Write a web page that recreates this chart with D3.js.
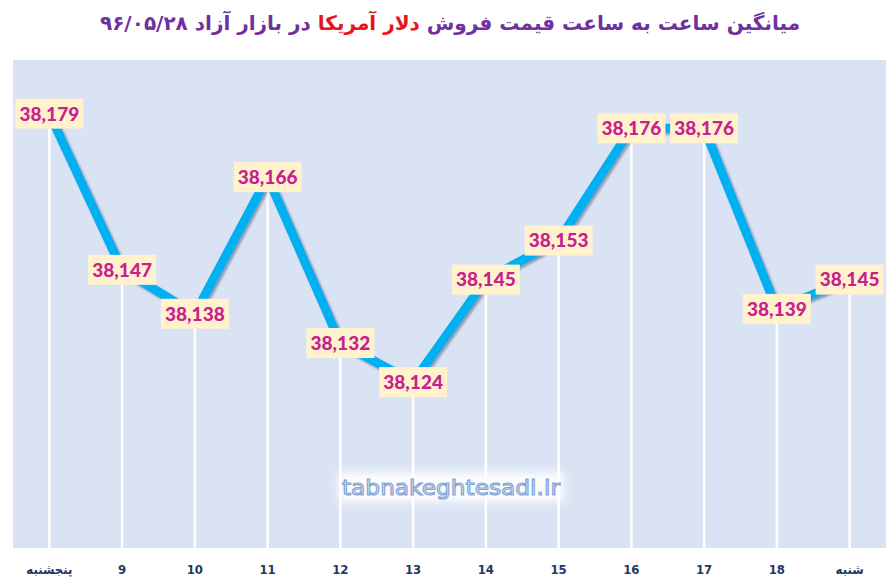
<!DOCTYPE html>
<html><head><meta charset="utf-8">
<script src="https://cdn.jsdelivr.net/npm/d3@7"></script>
<style>html,body{margin:0;padding:0;background:#fff;}svg{display:block;}</style>
</head><body>
<script>
const categories = ["پنجشنبه","9","10","11","12","13","14","15","16","17","18","شنبه"];
const prices = [38179,38147,38138,38166,38132,38124,38145,38153,38176,38176,38139,38145];
const yDomain = [38090, 38190];
const titleParts = [
  {t:"میانگین ساعت به ساعت قیمت فروش ", c:"#7030a0"},
  {t:"دلار آمریکا", c:"#e8141b"},
  {t:" در بازار آزاد ۹۶/۰۵/۲۸", c:"#7030a0"}
];
const watermark = "tabnakeghtesadi.ir";

const W=895,H=587;
const plot={x0:13,x1:886,y0:60,y1:548};
const svg=d3.select("body").append("svg").attr("width",W).attr("height",H);
const defs=svg.append("defs");
const f=defs.append("filter").attr("id","sh").attr("x","-10%").attr("y","-10%").attr("width","120%").attr("height","120%");
f.append("feDropShadow").attr("dx",2).attr("dy",2).attr("stdDeviation",1).attr("flood-color","#6b7a99").attr("flood-opacity",0.7);
const g2=defs.append("filter").attr("id","glow").attr("x","-20%").attr("y","-50%").attr("width","140%").attr("height","200%");
g2.append("feGaussianBlur").attr("stdDeviation",4);

svg.append("rect").attr("x",plot.x0).attr("y",plot.y0).attr("width",plot.x1-plot.x0).attr("height",plot.y1-plot.y0).attr("fill","#dae3f3");

const x=d3.scalePoint().domain(categories).range([plot.x0,plot.x1]).padding(0.5);
const y=d3.scaleLinear().domain(yDomain).range([plot.y1,plot.y0]);
const data=categories.map((c,i)=>({c,v:prices[i]}));

// drop lines
svg.append("g").selectAll("line").data(data).join("line")
  .attr("x1",d=>x(d.c)).attr("x2",d=>x(d.c))
  .attr("y1",d=>y(d.v)).attr("y2",plot.y1)
  .attr("stroke","#ffffff").attr("stroke-width",2.5);

// watermark
const wm=svg.append("g");
wm.append("rect").attr("x",338).attr("y",472).attr("width",226).attr("height",30).attr("fill","#ffffff").attr("opacity",0.9).attr("filter","url(#glow)");
wm.append("text").attr("x",451).attr("y",495).attr("text-anchor","middle")
  .attr("font-family","'DejaVu Sans'").attr("font-size",22).attr("font-weight","normal")
  .attr("fill","#dce6f5").attr("stroke","#7fa2d6").attr("stroke-width",1.1)
  .attr("textLength",218).attr("lengthAdjust","spacingAndGlyphs")
  .text(watermark);

// line
const line=d3.line().x(d=>x(d.c)).y(d=>y(d.v));
svg.append("path").datum(data).attr("d",line).attr("fill","none")
  .attr("stroke","#00b0f0").attr("stroke-width",9).attr("stroke-linejoin","miter").attr("filter","url(#sh)");

// data labels
const lg=svg.append("g").selectAll("g").data(data).join("g")
  .attr("transform",d=>`translate(${x(d.c)},${y(d.v)})`);
lg.append("rect").attr("x",-34).attr("y",-15).attr("width",68).attr("height",30).attr("fill","#fff2cc");
lg.append("text").attr("text-anchor","middle").attr("dy","0.36em")
  .attr("font-family","Lato").attr("font-weight","900").attr("font-size",19)
  .attr("fill","#c9208f").text(d=>d3.format(",")(d.v));

// x labels
svg.append("g").selectAll("text").data(categories).join("text")
  .attr("x",d=>x(d)).attr("y",574).attr("text-anchor","middle")
  .attr("font-family","'DejaVu Sans Condensed','DejaVu Sans'").attr("font-weight","bold").attr("font-size",13)
  .attr("fill","#1f3864").text(d=>d);

// title
const tt=svg.append("text").attr("x",450).attr("y",30).attr("text-anchor","middle")
  .attr("direction","rtl").attr("font-family","'DejaVu Sans'").attr("font-weight","bold").attr("font-size",20);
titleParts.forEach(p=>tt.append("tspan").attr("fill",p.c).text(p.t));
</script>
</body></html>
